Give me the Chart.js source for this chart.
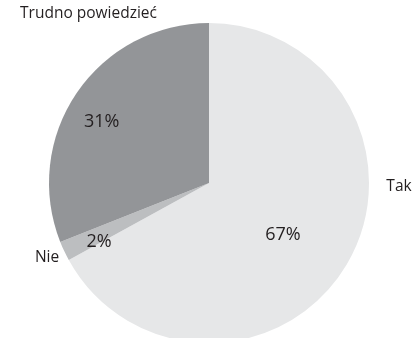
<!DOCTYPE html>
<html lang="pl">
<head>
<meta charset="utf-8">
<title>Trudno powiedzieć</title>
<script src="https://cdn.jsdelivr.net/npm/chart.js@4/dist/chart.umd.min.js"></script>
<style>
    html, body { margin: 0; padding: 0; background: #ffffff; overflow: hidden; }
    #wrap { width: 413px; height: 338px; overflow: hidden; }
    canvas { display: block; }
</style>
</head>
<body>
<div id="wrap">
    <canvas id="pie" width="413" height="360"></canvas>
</div>
<script>
const categories = ['Tak', 'Nie', 'Trudno powiedzieć'];
const shares = [67, 2, 31];
const sliceColors = ['#e6e7e8', '#bcbec0', '#939598'];

// label placement per slice: angle shift from the slice middle (deg) and distance as a share of the radius
const valueLabelPos = [{ shift: 4.5, dist: 0.565 }, { shift: -3, dist: 0.78 }, { shift: -4.7, dist: 0.77 }];
const nameLabelPos = [{ shift: -29.4, dist: 1.19, align: 'left' }, { shift: 0.4, dist: 1.115, align: 'center' }, { shift: 20.4, dist: 1.3, align: 'center' }];

const sliceLabels = {
    id: 'sliceLabels',
    afterDatasetsDraw(chart) {
        const ctx = chart.ctx;
        const arcs = chart.getDatasetMeta(0).data;
        ctx.save();
        ctx.fillStyle = '#231f20';
        ctx.textBaseline = 'middle';
        arcs.forEach((arc, i) => {
            const p = arc.getProps(['x', 'y', 'startAngle', 'endAngle', 'outerRadius'], true);
            const mid = (p.startAngle + p.endAngle) / 2;
            const place = (pos) => {
                const a = mid + pos.shift * Math.PI / 180;
                return [p.x + Math.cos(a) * p.outerRadius * pos.dist, p.y + Math.sin(a) * p.outerRadius * pos.dist];
            };

            const [vx, vy] = place(valueLabelPos[i]);
            ctx.font = '18px "Open Sans", sans-serif';
            ctx.textAlign = 'center';
            ctx.fillText(shares[i] + '%', vx, vy);

            const [nx, ny] = place(nameLabelPos[i]);
            ctx.font = '15.5px "Open Sans", sans-serif';
            ctx.textAlign = nameLabelPos[i].align;
            ctx.fillText(categories[i], nx - (nameLabelPos[i].align === 'left' ? 13 : 0), ny);
        });
        ctx.restore();
    }
};

new Chart(document.getElementById('pie'), {
    type: 'pie',
    data: {
        labels: categories,
        datasets: [{
            data: shares,
            backgroundColor: sliceColors,
            borderWidth: 0
        }]
    },
    options: {
        responsive: false,
        animation: false,
        layout: { padding: { left: 49, right: 44, top: 23, bottom: 17 } },
        plugins: {
            legend: { display: false },
            tooltip: { enabled: false }
        }
    },
    plugins: [sliceLabels]
});
</script>
</body>
</html>
